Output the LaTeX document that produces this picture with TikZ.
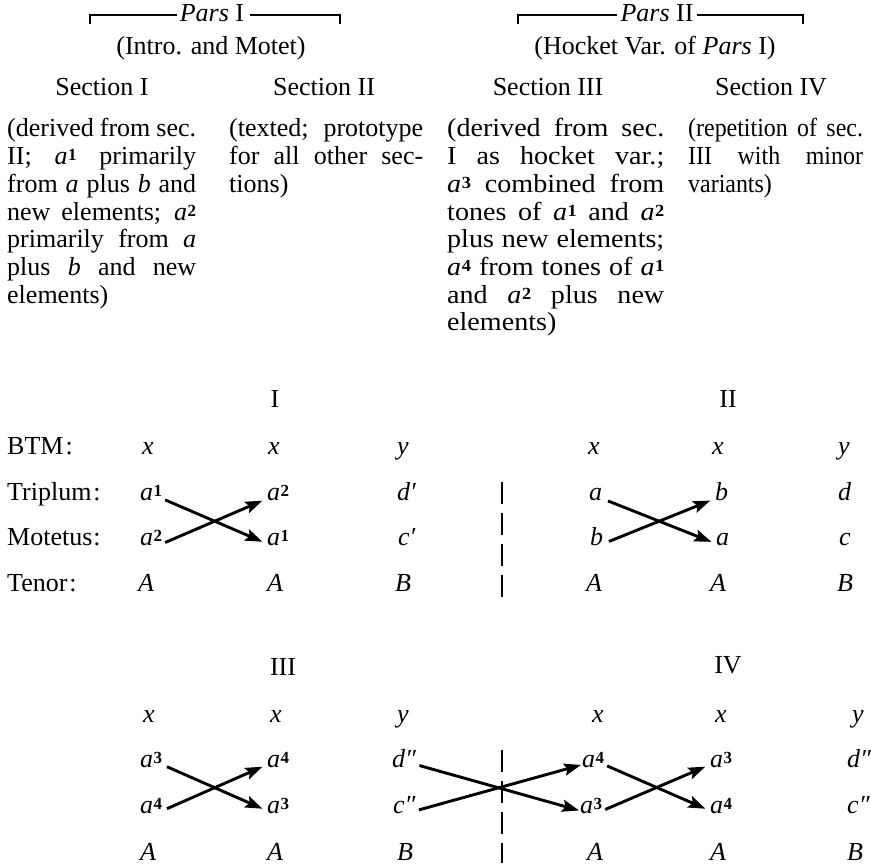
\documentclass[tikz,border=0pt]{standalone}
\usepackage{fontspec}
\setmainfont{Liberation Serif}
\usetikzlibrary{arrows.meta,calc}

% one justified line of a note column
\newcommand\jl[1]{\makebox[\linewidth][s]{#1}\par}
% italic letter with a numeric index set close beside it
\newcommand\vsym[2]{\textit{#1}\kern0.5pt\raisebox{4pt}{\fontsize{17}{17}\selectfont\bfseries #2}}
\newcommand\parfmt{\setlength\parindent{0pt}\lineskiplimit=-100pt\relax}

\tikzset{
  txt/.style={font=\fontsize{26}{27.7}\selectfont, inner sep=0pt, anchor=base},
  cell/.style={txt, anchor=base west},
  para/.style={txt, anchor=base west},
  swap/.style={line width=2.9pt, -{Stealth[length=17pt,width=12pt,inset=3pt]},
               shorten <=3pt, shorten >=5pt},
  sepline/.style={line width=2.6pt, dash pattern=on 22pt off 9pt},
  brk/.style={line width=1.5pt},
}

\begin{document}
\begin{tikzpicture}[x=1pt,y=-1pt]
\useasboundingbox (0,0) rectangle (871,866);

% ---------- headings ----------
\node[txt] (parsI)  at (212,22) {\textit{Pars} I};
\node[txt] (introI) at (211,55) {(Intro. and Motet)};
\node[txt] (secI)   at (102,96) {Section I};
\node[txt] (secII)  at (324,96) {Section II};

\node[txt] (parsII) at (657,22) {\textit{Pars} II};
\node[txt] (hocket) at (655,55) {(Hocket Var. of \textit{Pars} I)};
\node[txt] (secIII) at (548,96) {Section III};
\node[txt] (secIV)  at (771,96) {Section IV};

% brackets over the two partes
\coordinate (bIl)  at (90,15);
\coordinate (bIr)  at (340,15);
\coordinate (bIIl) at (518,15);
\coordinate (bIIr) at (803,15);
\draw[brk, shorten >=3pt] ($(bIl)+(0,9)$) -- (bIl) -- (parsI.west |- bIl);
\draw[brk, shorten <=6pt] (parsI.east |- bIr) -- (bIr) -- ++(0,9);
\draw[brk, shorten >=3pt] ($(bIIl)+(0,9)$) -- (bIIl) -- (parsII.west |- bIIl);
\draw[brk, shorten <=3pt] (parsII.east |- bIIr) -- (bIIr) -- ++(0,9);

% ---------- notes on the sections ----------
\node[para] (noteI) at (7,137) {\parbox[t]{189pt}{\parfmt
  \jl{(derived from sec.}
  \jl{II; \vsym{a}{1} primarily}
  \jl{from \textit{a} plus \textit{b} and}
  \jl{new elements; \vsym{a}{2}}
  \jl{primarily from \textit{a}}
  \jl{plus \textit{b} and new}
  elements)}};
\node[para] (noteII) at (229,137) {\parbox[t]{194pt}{\parfmt
  \jl{(texted; prototype}
  \jl{for all other sec-}
  tions)}};
\node[para] (noteIII) at (447,137) {\scalebox{1.08}[1]{\parbox[t]{201pt}{\parfmt
  \jl{(derived from sec.}
  \jl{I as hocket var.;}
  \jl{\vsym{a}{3} combined from}
  \jl{tones of \vsym{a}{1} and \vsym{a}{2}}
  \jl{plus new elements;}
  \jl{\vsym{a}{4} from tones of \vsym{a}{1}}
  \jl{and \vsym{a}{2} plus new}
  elements)}}};
\node[para] (noteIV) at (688,137) {\scalebox{0.92}[1]{\parbox[t]{190pt}{\parfmt
  \jl{(repetition of sec.}
  \jl{III with minor}
  variants)}}};

% ---------- upper table: sections I and II ----------
\node[txt] (hI)  at (275,408) {I};
\node[txt] (hII) at (728,408) {II};

\node[cell] (lbtm) at (7,455) {BTM\kern2pt:};
\node[cell] (ltri) at (7,501) {Triplum\kern2pt:};
\node[cell] (lmot) at (7,546) {Motetus\kern1pt:};
\node[cell] (lten) at (7,591) {Tenor\kern2pt:};

% section I
\node[cell] (ux1)  at (142,455) {\textit{x}};
\node[cell] (ux2)  at (268,455) {\textit{x}};
\node[cell] (uy3)  at (397,455) {\textit{y}};
\node[cell] (ut1)  at (140,501) {\vsym{a}{1}};
\node[cell] (ut2)  at (267,501) {\vsym{a}{2}};
\node[cell] (ut3)  at (397,501) {\textit{d′}};
\node[cell] (um1)  at (140,546) {\vsym{a}{2}};
\node[cell] (um2)  at (267,546) {\vsym{a}{1}};
\node[cell] (um3)  at (398,546) {\textit{c′}};
\node[cell] (uA1)  at (138,591) {\textit{A}};
\node[cell] (uA2)  at (267,591) {\textit{A}};
\node[cell] (uB3)  at (395,591) {\textit{B}};

% section II
\node[cell] (vx1)  at (588,455) {\textit{x}};
\node[cell] (vx2)  at (712,455) {\textit{x}};
\node[cell] (vy3)  at (838,455) {\textit{y}};
\node[cell] (vt1)  at (589,501) {\textit{a}};
\node[cell] (vt2)  at (715,501) {\textit{b}};
\node[cell] (vt3)  at (838,501) {\textit{d}};
\node[cell] (vm1)  at (590,546) {\textit{b}};
\node[cell] (vm2)  at (716,546) {\textit{a}};
\node[cell] (vm3)  at (839,546) {\textit{c}};
\node[cell] (vA1)  at (586,591) {\textit{A}};
\node[cell] (vA2)  at (710,591) {\textit{A}};
\node[cell] (vB3)  at (837,591) {\textit{B}};

\draw[swap] (ut1.mid east) -- (um2.mid west);
\draw[swap] (um1.mid east) -- (ut2.mid west);
\draw[swap, shorten <=6pt] (vt1.mid east) -- (vm2.mid west);
\draw[swap, shorten <=6pt] (vm1.mid east) -- (vt2.mid west);

\coordinate (sepAtop) at (502,482);
\coordinate (sepAbot) at (502,597);
\draw[sepline] (sepAtop) -- (sepAbot);

% ---------- lower table: sections III and IV ----------
\node[txt] (hIII) at (283,675) {III};
\node[txt] (hIV)  at (728,673) {IV};

% section III
\node[cell] (wx1)  at (143,722) {\textit{x}};
\node[cell] (wx2)  at (270,722) {\textit{x}};
\node[cell] (wy3)  at (397,722) {\textit{y}};
\node[cell] (wt1)  at (140,767) {\vsym{a}{3}};
\node[cell] (wt2)  at (267,767) {\vsym{a}{4}};
\node[cell] (wt3)  at (392,767) {\textit{d″}};
\node[cell] (wm1)  at (140,813) {\vsym{a}{4}};
\node[cell] (wm2)  at (267,813) {\vsym{a}{3}};
\node[cell] (wm3)  at (393,813) {\textit{c″}};
\node[cell] (wA1)  at (140,860) {\textit{A}};
\node[cell] (wA2)  at (267,860) {\textit{A}};
\node[cell] (wB3)  at (397,860) {\textit{B}};

% section IV
\node[cell] (zx1)  at (592,722) {\textit{x}};
\node[cell] (zx2)  at (715,722) {\textit{x}};
\node[cell] (zy3)  at (852,722) {\textit{y}};
\node[cell] (zt1)  at (582,767) {\vsym{a}{4}};
\node[cell] (zt2)  at (710,767) {\vsym{a}{3}};
\node[cell] (zt3)  at (847,767) {\textit{d″}};
\node[cell] (zm1)  at (580,813) {\vsym{a}{3}};
\node[cell] (zm2)  at (710,813) {\vsym{a}{4}};
\node[cell] (zm3)  at (847,813) {\textit{c″}};
\node[cell] (zA1)  at (587,860) {\textit{A}};
\node[cell] (zA2)  at (710,860) {\textit{A}};
\node[cell] (zB3)  at (847,860) {\textit{B}};

\draw[swap, shorten <=5pt] (wt1.mid east) -- (wm2.mid west);
\draw[swap, shorten <=5pt] (wm1.mid east) -- (wt2.mid west);
\draw[swap, shorten >=1pt] (wt3.mid east) -- (zm1.mid west);
\draw[swap, shorten >=1pt] (wm3.mid east) -- (zt1.mid west);
\draw[swap] (zt1.mid east) -- (zm2.mid west);
\draw[swap] (zm1.mid east) -- (zt2.mid west);

\coordinate (sepBtop) at (502,750);
\coordinate (sepBbot) at (502,863);
\draw[sepline] (sepBtop) -- (sepBbot);
\end{tikzpicture}
\end{document}
